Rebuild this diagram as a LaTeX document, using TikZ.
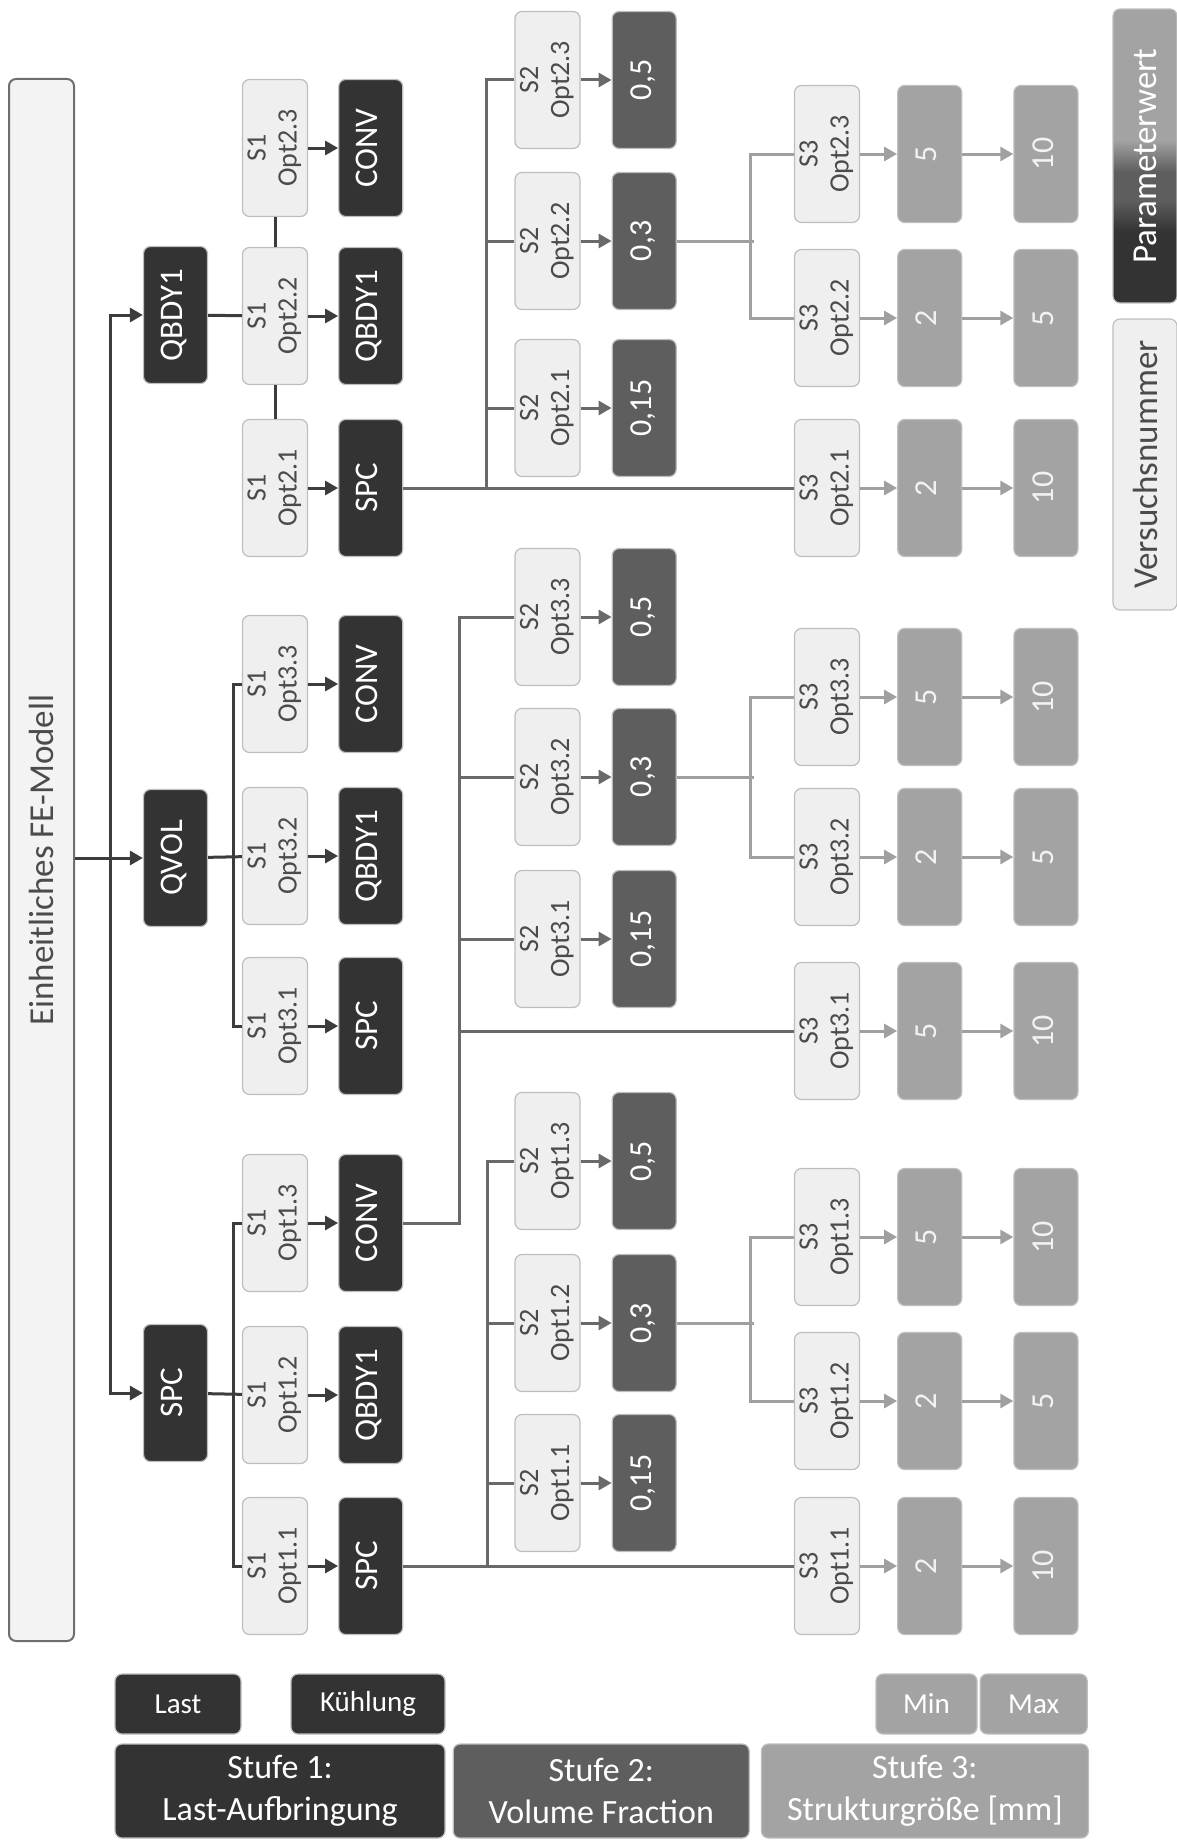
\documentclass[tikz,border=0pt]{standalone}
\usepackage{fontspec}
\setmainfont{Carlito}
\usepackage{graphicx}
\usepackage{tikz}
\usetikzlibrary{arrows.meta, positioning}
\definecolor{StageOne}{RGB}{51,51,51}
\definecolor{StageTwo}{RGB}{94,94,94}
\definecolor{StageThree}{RGB}{163,163,163}
\definecolor{RunFill}{RGB}{239,239,239}
\definecolor{RunText}{RGB}{75,75,75}
\definecolor{EdgeGray}{RGB}{190,190,190}
\definecolor{LineOne}{RGB}{60,60,60}
\definecolor{LineTwo}{RGB}{105,105,105}
\definecolor{LineThree}{RGB}{160,160,160}
\definecolor{BarFill}{RGB}{243,243,243}
\definecolor{BarEdge}{RGB}{110,110,110}
\newcommand{\vt}[1]{\rotatebox{90}{\begin{tabular}{@{}c@{}}#1\end{tabular}}}

\begin{document}
\begin{tikzpicture}[
  x=1pt, y=-1pt,
  box/.style={rounded corners=7pt, draw=EdgeGray, line width=1.2pt,
              inner sep=0pt, align=center, minimum height=137pt},
  run/.style={box, fill=RunFill, text=RunText, minimum width=65pt,
              font=\fontsize{28}{31}\selectfont},
  load/.style={box, fill=StageOne, text=white, minimum width=64pt,
               font=\fontsize{33}{36}\selectfont},
  frac/.style={load, fill=StageTwo, font=\fontsize{32}{36}\selectfont},
  strsize/.style={load, fill=StageThree, text=white!95!black,
                  font=\fontsize{32}{36}\selectfont},
  legend/.style={box, minimum height=60pt, text=white,
                 font=\fontsize{29}{33}\selectfont},
  stage/.style={box, minimum height=94pt, text=white,
                font=\fontsize{34}{42}\selectfont},
  link1/.style={LineOne, line width=3pt},
  link2/.style={LineTwo, line width=3pt},
  link3/.style={LineThree, line width=3pt},
  arr/.style={-{Triangle[length=13pt, width=14pt]}},
]
\useasboundingbox (0,0) rectangle (1176,1841);

\node[box, fill=BarFill, draw=BarEdge, line width=2pt, minimum width=65pt,
      minimum height=1562pt, text=RunText, font=\fontsize{35}{40}\selectfont]
  (fe) at (41.5,860) {\rotatebox{90}{Einheitliches FE-Modell}};

\node[load] (qbdyL) at (175.5,315) {\vt{QBDY1}};
\node[load] (qvolL) at (175.5,858) {\vt{QVOL}};
\node[load] (spcL) at (175.5,1393) {\vt{SPC}};

\node[run] (o23) at (275,148) {\vt{S1\\Opt2.3}};
\node[run] (o22) at (275,316) {\vt{S1\\Opt2.2}};
\node[run] (o21) at (275,488) {\vt{S1\\Opt2.1}};
\node[run] (o33) at (275,684) {\vt{S1\\Opt3.3}};
\node[run] (o32) at (275,856) {\vt{S1\\Opt3.2}};
\node[run] (o31) at (275,1026) {\vt{S1\\Opt3.1}};
\node[run] (o13) at (275,1223) {\vt{S1\\Opt1.3}};
\node[run] (o12) at (275,1395) {\vt{S1\\Opt1.2}};
\node[run] (o11) at (275,1566) {\vt{S1\\Opt1.1}};

\node[load, right=30pt of o23] (k23) {\vt{CONV}};
\node[load, right=30pt of o22] (k22) {\vt{QBDY1}};
\node[load, right=30pt of o21] (k21) {\vt{SPC}};
\node[load, right=30pt of o33] (k33) {\vt{CONV}};
\node[load, right=30pt of o32] (k32) {\vt{QBDY1}};
\node[load, right=30pt of o31] (k31) {\vt{SPC}};
\node[load, right=30pt of o13] (k13) {\vt{CONV}};
\node[load, right=30pt of o12] (k12) {\vt{QBDY1}};
\node[load, right=30pt of o11] (k11) {\vt{SPC}};

\node[run] (p23) at (547.5,80) {\vt{S2\\Opt2.3}};
\node[run] (p22) at (547.5,241) {\vt{S2\\Opt2.2}};
\node[run] (p21) at (547.5,408) {\vt{S2\\Opt2.1}};
\node[run] (p33) at (547.5,617) {\vt{S2\\Opt3.3}};
\node[run] (p32) at (547.5,777) {\vt{S2\\Opt3.2}};
\node[run] (p31) at (547.5,939) {\vt{S2\\Opt3.1}};
\node[run] (p13) at (547.5,1161) {\vt{S2\\Opt1.3}};
\node[run] (p12) at (547.5,1323) {\vt{S2\\Opt1.2}};
\node[run] (p11) at (547.5,1483) {\vt{S2\\Opt1.1}};

\node[frac, right=31pt of p23] (f23) {\vt{0,5}};
\node[frac, right=31pt of p22] (f22) {\vt{0,3}};
\node[frac, right=31pt of p21] (f21) {\vt{0,15}};
\node[frac, right=31pt of p33] (f33) {\vt{0,5}};
\node[frac, right=31pt of p32] (f32) {\vt{0,3}};
\node[frac, right=31pt of p31] (f31) {\vt{0,15}};
\node[frac, right=31pt of p13] (f13) {\vt{0,5}};
\node[frac, right=31pt of p12] (f12) {\vt{0,3}};
\node[frac, right=31pt of p11] (f11) {\vt{0,15}};

\node[run] (q23) at (827,154) {\vt{S3\\Opt2.3}};
\node[run] (q22) at (827,318) {\vt{S3\\Opt2.2}};
\node[run] (q21) at (827,488) {\vt{S3\\Opt2.1}};
\node[run] (q33) at (827,697) {\vt{S3\\Opt3.3}};
\node[run] (q32) at (827,857) {\vt{S3\\Opt3.2}};
\node[run] (q31) at (827,1031) {\vt{S3\\Opt3.1}};
\node[run] (q13) at (827,1237) {\vt{S3\\Opt1.3}};
\node[run] (q12) at (827,1401) {\vt{S3\\Opt1.2}};
\node[run] (q11) at (827,1566) {\vt{S3\\Opt1.1}};

\node[strsize, right=37pt of q23] (a23) {\vt{5}};
\node[strsize, right=51pt of a23] (b23) {\vt{10}};
\node[strsize, right=37pt of q22] (a22) {\vt{2}};
\node[strsize, right=51pt of a22] (b22) {\vt{5}};
\node[strsize, right=37pt of q21] (a21) {\vt{2}};
\node[strsize, right=51pt of a21] (b21) {\vt{10}};
\node[strsize, right=37pt of q33] (a33) {\vt{5}};
\node[strsize, right=51pt of a33] (b33) {\vt{10}};
\node[strsize, right=37pt of q32] (a32) {\vt{2}};
\node[strsize, right=51pt of a32] (b32) {\vt{5}};
\node[strsize, right=37pt of q31] (a31) {\vt{5}};
\node[strsize, right=51pt of a31] (b31) {\vt{10}};
\node[strsize, right=37pt of q13] (a13) {\vt{5}};
\node[strsize, right=51pt of a13] (b13) {\vt{10}};
\node[strsize, right=37pt of q12] (a12) {\vt{2}};
\node[strsize, right=51pt of a12] (b12) {\vt{5}};
\node[strsize, right=37pt of q11] (a11) {\vt{2}};
\node[strsize, right=51pt of a11] (b11) {\vt{10}};

\begin{scope}
\clip[rounded corners=7pt] (1113,9) rectangle (1177,303);
\fill[StageThree] (1113,9) rectangle (1177,140);
\shade[top color=StageThree, bottom color=StageTwo] (1113,140) rectangle (1177,172);
\fill[StageTwo] (1113,172) rectangle (1177,200);
\shade[top color=StageTwo, bottom color=StageOne] (1113,200) rectangle (1177,232);
\fill[StageOne] (1113,232) rectangle (1177,303);
\end{scope}
\node[box, minimum width=64pt, minimum height=294pt, text=white,
      font=\fontsize{35}{38}\selectfont]
  (pw) at (1145,156) {\rotatebox{90}{Parameterwert}};
\node[run, minimum width=64pt, minimum height=291pt,
      font=\fontsize{35}{38}\selectfont]
  (vn) at (1145,464.5) {\rotatebox{90}{Versuchsnummer}};

\node[legend, fill=StageOne, minimum width=126pt] (last) at (178,1704) {Last};
\node[legend, fill=StageOne, minimum width=154pt] (cool) at (368,1704) {Kühlung};
\node[legend, fill=StageThree, minimum width=101pt] (min) at (926.5,1704) {Min};
\node[legend, fill=StageThree, minimum width=107pt, right=2pt of min] (max) {Max};
\node[stage, fill=StageOne, minimum width=330pt] (st1) at (280,1791) {Stufe 1:\\Last-Aufbringung};
\node[stage, fill=StageTwo, minimum width=296pt, right=7pt of st1] (st2) {Stufe 2:\\Volume Fraction};
\node[stage, fill=StageThree, minimum width=327pt, right=11pt of st2] (st3) {Stufe 3:\\Strukturgröße [mm]};

\draw[link1, arr] (fe.east |- qvolL) -- (qvolL);
\draw[link1, arr] (fe.east |- qvolL) ++(35,0) |- (qbdyL);
\draw[link1, arr] (fe.east |- qvolL) ++(35,0) |- (spcL);

\draw[link1] (qbdyL) -- (o22);
\draw[link1] (o23) -- (o22);
\draw[link1] (o22) -- (o21);
\draw[link1] (qvolL) -- (o32);
\draw[link1] (o33.west) -- ++(-8,0) |- (o31.west);
\draw[link1] (spcL) -- (o12);
\draw[link1] (o13.west) -- ++(-8,0) |- (o11.west);

\draw[link1, arr] (o23) -- (k23);
\draw[link1, arr] (o22) -- (k22);
\draw[link1, arr] (o21) -- (k21);
\draw[link1, arr] (o33) -- (k33);
\draw[link1, arr] (o32) -- (k32);
\draw[link1, arr] (o31) -- (k31);
\draw[link1, arr] (o13) -- (k13);
\draw[link1, arr] (o12) -- (k12);
\draw[link1, arr] (o11) -- (k11);

\draw[link2] (k21) -- (q21);
\draw[link2] (p23.west) -- ++(-28,0) |- (k21.east);
\draw[link2] (p22.west) -- ++(-28,0);
\draw[link2] (p21.west) -- ++(-28,0);
\draw[link2] (p33.west) -- ++(-55,0) |- (k13.east);
\draw[link2] (p32.west) -- ++(-55,0);
\draw[link2] (p31.west) -- ++(-55,0);
\draw[link2] (q31.west) -- ++(-335,0);
\draw[link2] (k11) -- (q11);
\draw[link2] (p13.west) -- ++(-27,0) |- (k11.east);
\draw[link2] (p12.west) -- ++(-27,0);
\draw[link2] (p11.west) -- ++(-27,0);

\draw[link2, arr] (p23) -- (f23);
\draw[link2, arr] (p22) -- (f22);
\draw[link2, arr] (p21) -- (f21);
\draw[link2, arr] (p33) -- (f33);
\draw[link2, arr] (p32) -- (f32);
\draw[link2, arr] (p31) -- (f31);
\draw[link2, arr] (p13) -- (f13);
\draw[link2, arr] (p12) -- (f12);
\draw[link2, arr] (p11) -- (f11);

\draw[link3] (f22.east) -- ++(77,0);
\draw[link3] (q23.west) -- ++(-43,0) |- (q22.west);
\draw[link3] (f32.east) -- ++(77,0);
\draw[link3] (q33.west) -- ++(-43,0) |- (q32.west);
\draw[link3] (f12.east) -- ++(77,0);
\draw[link3] (q13.west) -- ++(-43,0) |- (q12.west);

\draw[link3, arr] (q23) -- (a23);
\draw[link3, arr] (a23) -- (b23);
\draw[link3, arr] (q22) -- (a22);
\draw[link3, arr] (a22) -- (b22);
\draw[link3, arr] (q21) -- (a21);
\draw[link3, arr] (a21) -- (b21);
\draw[link3, arr] (q33) -- (a33);
\draw[link3, arr] (a33) -- (b33);
\draw[link3, arr] (q32) -- (a32);
\draw[link3, arr] (a32) -- (b32);
\draw[link3, arr] (q31) -- (a31);
\draw[link3, arr] (a31) -- (b31);
\draw[link3, arr] (q13) -- (a13);
\draw[link3, arr] (a13) -- (b13);
\draw[link3, arr] (q12) -- (a12);
\draw[link3, arr] (a12) -- (b12);
\draw[link3, arr] (q11) -- (a11);
\draw[link3, arr] (a11) -- (b11);
\end{tikzpicture}
\end{document}
